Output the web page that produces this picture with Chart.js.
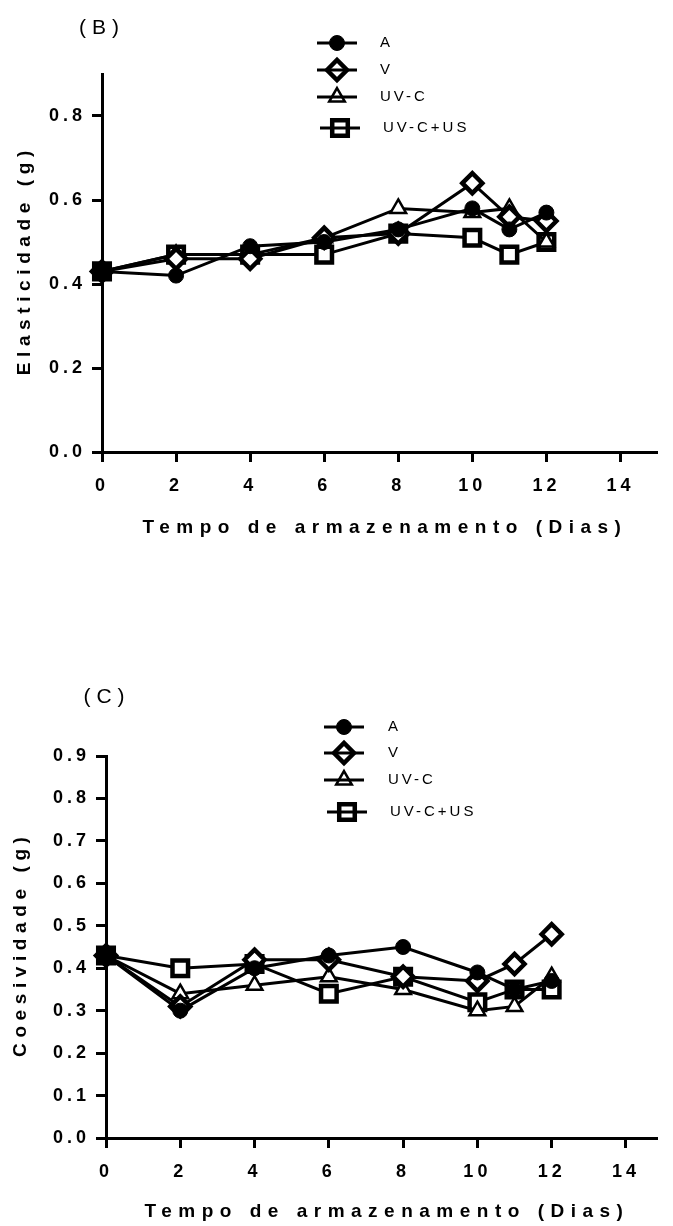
<!DOCTYPE html>
<html>
<head>
<meta charset="utf-8">
<script src="https://cdn.jsdelivr.net/npm/chart.js@4.4.1/dist/chart.umd.min.js"></script>
<style>
  html, body { margin: 0; padding: 0; background: #fff; }
  #wrap { position: relative; width: 673px; height: 1226px; overflow: hidden; }
  .box { position: absolute; left: 0; width: 673px; }
  #boxB { top: 0; height: 539px; }
  #boxC { top: 560px; height: 666px; }
</style>
</head>
<body>
<div id="wrap">
  <div class="box" id="boxB"><canvas id="chartB"></canvas></div>
  <div class="box" id="boxC"><canvas id="chartC"></canvas></div>
</div>
<script>
// dias de armazenamento e séries
const days = [0, 2, 4, 6, 8, 10, 11, 12];
const seriesNames = ["A", "V", "UV-C", "UV-C+US"];
const xTicks = [0, 2, 4, 6, 8, 10, 12, 14];

// (B) Elasticidade (g)
const elastA     = [0.43, 0.42, 0.49, 0.50, 0.53, 0.58, 0.53, 0.57];
const elastV     = [0.43, 0.46, 0.46, 0.51, 0.52, 0.64, 0.56, 0.55];
const elastUVC   = [0.43, 0.47, 0.47, 0.51, 0.58, 0.57, 0.58, 0.50];
const elastUVCUS = [0.43, 0.47, 0.47, 0.47, 0.52, 0.51, 0.47, 0.50];
const elastTicks = [0, 0.2, 0.4, 0.6, 0.8];

// (C) Coesividade (g)
const cohA     = [0.43, 0.30, 0.40, 0.43, 0.45, 0.39, 0.35, 0.37];
const cohV     = [0.43, 0.31, 0.42, 0.42, 0.38, 0.37, 0.41, 0.48];
const cohUVC   = [0.43, 0.34, 0.36, 0.38, 0.35, 0.30, 0.31, 0.38];
const cohUVCUS = [0.43, 0.40, 0.41, 0.34, 0.38, 0.32, 0.35, 0.35];
const cohTicks = [0, 0.1, 0.2, 0.3, 0.4, 0.5, 0.6, 0.7, 0.8, 0.9];

const FONT = '"Liberation Sans", Arial, Helvetica, sans-serif';
const MARKERS = [
  { pointStyle: "circle",   radius: 7.5, borderWidth: 1,   fill: "#000" },
  { pointStyle: "rectRot",  radius: 10,  borderWidth: 4.5, fill: "#fff" },
  { pointStyle: "triangle", radius: 9,   borderWidth: 2.5, fill: "#fff" },
  { pointStyle: "rect",     radius: 11,  borderWidth: 4.5, fill: "#fff" },
];

function drawMarker(ctx, m, x, y) {
  ctx.save();
  ctx.fillStyle = m.fill;
  ctx.strokeStyle = "#000";
  ctx.lineWidth = m.borderWidth;
  if (window.Chart && Chart.helpers && Chart.helpers.drawPoint) {
    Chart.helpers.drawPoint(ctx, { pointStyle: m.pointStyle, rotation: 0, radius: m.radius, borderWidth: m.borderWidth }, x, y);
  } else {
    ctx.beginPath();
    ctx.arc(x, y, m.radius, 0, Math.PI * 2);
    ctx.fill();
    ctx.stroke();
  }
  ctx.restore();
}

function spacedText(ctx, text, x, y, font, spacing, align, rot) {
  ctx.save();
  ctx.font = font;
  ctx.letterSpacing = spacing + "px";
  ctx.fillStyle = "#000";
  ctx.textBaseline = "middle";
  ctx.textAlign = align;
  ctx.translate(x, y);
  if (rot) ctx.rotate(rot);
  ctx.fillText(text, align === "center" ? spacing / 2 : 0, 0);
  ctx.restore();
}

function makeChart(id, cfg) {
  const deco = {
    id: "deco" + id,
    beforeDraw(chart) {
      chart.ctx.letterSpacing = "4px";
    },
    afterDraw(chart) {
      const ctx = chart.ctx;
      const a = chart.chartArea;
      spacedText(ctx, cfg.panel, cfg.panelX, cfg.panelY, "21px " + FONT, 6, "center");
      spacedText(ctx, "Tempo de armazenamento (Dias)", (a.left + a.right) / 2 + 2, cfg.xTitleY, "bold 19px " + FONT, 6.5, "center");
      spacedText(ctx, cfg.yTitle, cfg.yTitleX, (a.top + a.bottom) / 2, "bold 19px " + FONT, 5.6, "center", -Math.PI / 2);
      cfg.legend.forEach((row, i) => {
        const m = MARKERS[i];
        const cx = (row.x0 + row.x1) / 2;
        drawMarker(ctx, m, cx, row.y);
        ctx.save();
        ctx.strokeStyle = "#000";
        ctx.lineWidth = 3;
        ctx.beginPath();
        ctx.moveTo(row.x0, row.y);
        ctx.lineTo(row.x1, row.y);
        ctx.stroke();
        ctx.restore();
        spacedText(ctx, seriesNames[i], row.tx, row.y, "15px " + FONT, 3, "left");
      });
    },
  };

  const datasets = cfg.series.map((vals, i) => ({
    label: seriesNames[i],
    data: days.map((d, j) => ({ x: d, y: vals[j] })),
    borderColor: "#000",
    borderWidth: 3,
    tension: 0,
    fill: false,
    clip: false,
    pointStyle: MARKERS[i].pointStyle,
    pointRadius: MARKERS[i].radius,
    pointHoverRadius: MARKERS[i].radius,
    pointBorderWidth: MARKERS[i].borderWidth,
    pointBackgroundColor: MARKERS[i].fill,
    pointBorderColor: "#000",
  }));

  const tickFont = { family: FONT, size: 18, weight: "bold" };
  const gridOpts = { display: true, drawOnChartArea: false, drawTicks: true, tickLength: 10, tickWidth: 3, tickColor: "#000" };

  return new Chart(document.getElementById(id), {
    type: "line",
    data: { datasets },
    options: {
      responsive: true,
      maintainAspectRatio: false,
      animation: false,
      events: [],
      layout: { padding: { top: cfg.padTop, right: cfg.padRight, bottom: 0, left: 0 } },
      plugins: { legend: { display: false }, tooltip: { enabled: false } },
      scales: {
        x: {
          type: "linear",
          position: "bottom",
          min: 0,
          max: cfg.xMax,
          afterBuildTicks: (s) => { s.ticks = xTicks.map((v) => ({ value: v })); },
          afterFit: (s) => { s.height = cfg.xHeight; },
          ticks: { autoSkip: false, maxRotation: 0, color: "#000", font: tickFont, padding: 13, callback: (v) => String(v) },
          grid: gridOpts,
          border: { display: true, color: "#000", width: 3 },
        },
        y: {
          type: "linear",
          min: 0,
          max: cfg.yMax,
          afterBuildTicks: (s) => { s.ticks = cfg.yTicks.map((v) => ({ value: v })); },
          afterFit: (s) => { s.width = cfg.yWidth; },
          ticks: { color: "#000", font: tickFont, padding: 6, callback: (v) => v.toFixed(1) },
          grid: gridOpts,
          border: { display: true, color: "#000", width: 3 },
        },
      },
    },
    plugins: [deco],
  });
}

makeChart("chartB", {
  series: [elastA, elastV, elastUVC, elastUVCUS],
  yTicks: elastTicks, yMax: 0.9, xMax: 15,
  yTitle: "Elasticidade (g)", panel: "(B)",
  padTop: 74, padRight: 1, yWidth: 102, xHeight: 87,
  panelX: 99, panelY: 28, xTitleY: 528, yTitleX: 25,
  legend: [
    { y: 43, x0: 317, x1: 357, tx: 380 },
    { y: 70, x0: 317, x1: 357, tx: 380 },
    { y: 97, x0: 317, x1: 357, tx: 380 },
    { y: 128, x0: 320, x1: 360, tx: 383 },
  ],
});

makeChart("chartC", {
  series: [cohA, cohV, cohUVC, cohUVCUS],
  yTicks: cohTicks, yMax: 0.9, xMax: 14.85,
  yTitle: "Coesividade (g)", panel: "(C)",
  padTop: 196, padRight: 0, yWidth: 106, xHeight: 88,
  panelX: 104, panelY: 137, xTitleY: 652, yTitleX: 21,
  legend: [
    { y: 167, x0: 324, x1: 364, tx: 388 },
    { y: 193, x0: 324, x1: 364, tx: 388 },
    { y: 220, x0: 324, x1: 364, tx: 388 },
    { y: 252, x0: 327, x1: 367, tx: 390 },
  ],
});
</script>
</body>
</html>
